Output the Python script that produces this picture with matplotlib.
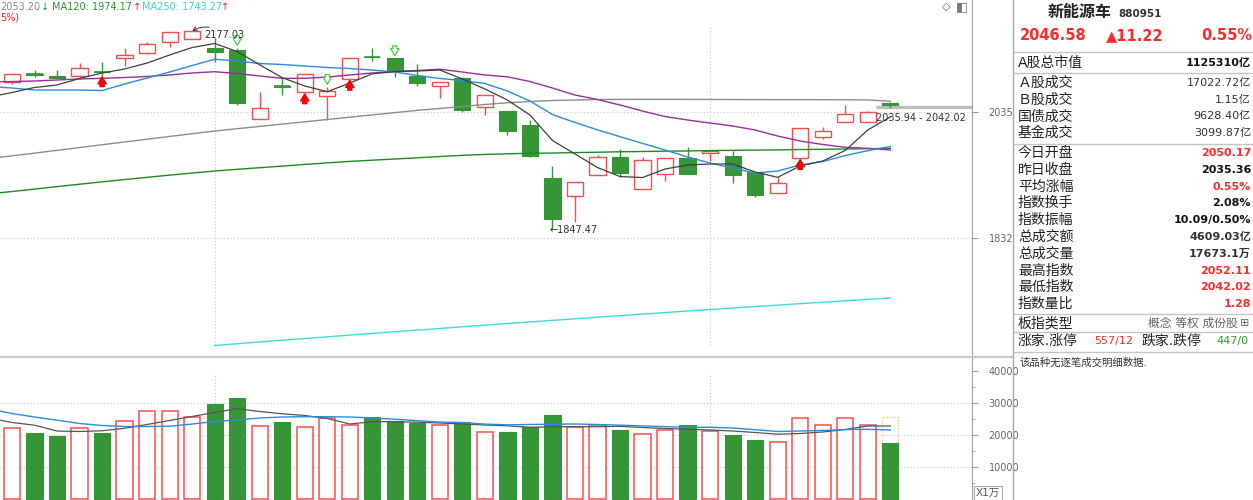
import numpy as np
import matplotlib.pyplot as plt
from matplotlib.lines import Line2D
from matplotlib.ticker import FixedLocator, FixedFormatter, NullLocator

plt.rcParams['font.family'] = ['DejaVu Sans', 'Noto Sans CJK SC']

# daily candles (oldest -> newest)
opens = [2086.8, 2101.1, 2096.7, 2096.7, 2104.6, 2128.9, 2137.8, 2156.3, 2162.3, 2145.6,
         2142.6, 2023.0, 2079.4, 2068.5, 2062.6, 2091.5, 2131.0, 2127.8, 2097.2, 2079.9,
         2093.2, 2043.8, 2037.0, 2013.0, 1925.6, 1897.5, 1930.9, 1959.6, 1908.1, 1932.5,
         1958.0, 1967.1, 1961.7, 1936.2, 1902.7, 1958.0, 1993.5, 2017.5, 2018.5, 2050.17]
closes = [2100.2, 2099.3, 2093.2, 2111.2, 2103.2, 2133.7, 2152.8, 2174.4, 2176.7, 2139.5,
          2049.6, 2042.1, 2077.6, 2099.7, 2070.7, 2127.8, 2130.1, 2107.2, 2084.5, 2085.8,
          2038.2, 2063.8, 2003.4, 1962.2, 1861.1, 1919.2, 1960.6, 1934.6, 1955.2, 1958.0,
          1932.5, 1970.4, 1930.9, 1899.1, 1917.6, 2008.4, 2003.4, 2031.5, 2035.36, 2046.58]
highs = [2100.2, 2107.2, 2107.2, 2119.0, 2121.8, 2145.6, 2157.4, 2174.4, 2177.03, 2163.5,
         2146.1, 2069.5, 2092.7, 2101.1, 2077.6, 2127.8, 2145.6, 2127.8, 2117.2, 2085.8,
         2095.0, 2063.8, 2037.0, 2021.4, 1945.5, 1919.2, 1963.3, 1972.7, 1960.6, 1958.5,
         1975.9, 1970.4, 1970.4, 1936.2, 1927.2, 2008.4, 2010.1, 2046.7, 2035.9, 2052.11]
lows = [2082.8, 2095.0, 2093.2, 2092.7, 2097.6, 2114.2, 2134.9, 2148.5, 2161.4, 2121.8,
        2046.7, 2023.0, 2063.8, 2068.1, 2021.4, 2091.5, 2123.1, 2095.5, 2079.9, 2058.2,
        2035.7, 2030.6, 1996.3, 1960.5, 1847.47, 1857.4, 1930.9, 1928.2, 1908.1, 1921.8,
        1932.5, 1954.0, 1917.6, 1895.4, 1902.7, 1958.0, 1989.2, 2017.5, 2018.5, 2042.02]
volumes = [22190, 20800, 19780, 22190, 20800, 24370, 27500, 27500, 25800, 29780,
           31650, 23000, 24160, 22700, 25500, 23220, 25720, 24470, 23940, 23320,
           24160, 21030, 21130, 22700, 26340, 22590, 23220, 21660, 20310, 21660,
           23320, 21450, 20190, 18530, 17810, 25310, 23320, 25310, 23320, 17673.1]
forecast_volume = 25620

# moving averages, first value is the day before the first candle
ma5 = [2060.4, 2068.1, 2076.8, 2081.1, 2092.5, 2102.0, 2109.0, 2119.5, 2133.7, 2147.0,
       2154.2, 2139.9, 2116.3, 2093.8, 2079.4, 2069.5, 2084.5, 2100.6, 2104.4, 2105.5,
       2107.2, 2091.5, 2074.2, 2055.3, 2029.8, 1987.2, 1965.0, 1943.0, 1928.5, 1926.9,
       1940.6, 1947.1, 1948.7, 1948.7, 1935.8, 1927.2, 1945.5, 1953.6, 1970.7, 2004.6, 2026.4]
ma10 = [2078.5, 2075.9, 2072.4, 2072.4, 2072.4, 2071.5, 2082.8, 2093.2, 2103.7, 2115.1,
        2126.1, 2123.1, 2118.6, 2116.9, 2114.2, 2111.6, 2109.8, 2107.2, 2103.7, 2097.6,
        2092.4, 2088.9, 2083.7, 2070.7, 2053.6, 2030.6, 2017.2, 2004.9, 1993.5, 1982.4,
        1971.5, 1960.1, 1950.3, 1942.2, 1934.1, 1937.4, 1947.1, 1952.7, 1962.5, 1970.4, 1977.3]
ma20 = [2086.3, 2087.1, 2088.0, 2089.8, 2091.5, 2092.7, 2094.1, 2095.9, 2098.5, 2102.0,
        2104.2, 2101.1, 2096.7, 2092.7, 2092.7, 2095.0, 2098.5, 2102.0, 2104.6, 2106.3,
        2108.6, 2103.7, 2098.5, 2095.3, 2087.1, 2075.9, 2063.8, 2056.1, 2046.7, 2036.5,
        2027.2, 2021.4, 2016.3, 2011.3, 2004.6, 1994.6, 1986.3, 1980.6, 1975.9, 1974.3, 1971.5]
ma60 = [1957.5, 1962.0, 1966.4, 1971.0, 1975.6, 1980.2, 1984.7, 1989.3, 1993.9, 1998.4,
        2002.9, 2006.8, 2010.6, 2014.5, 2018.3, 2022.2, 2026.1, 2030.0, 2033.8, 2037.7,
        2040.8, 2044.2, 2047.6, 2050.6, 2052.7, 2054.4, 2055.3, 2056.1, 2056.3, 2056.4,
        2056.4, 2056.3, 2056.2, 2056.1, 2056.0, 2055.9, 2055.9, 2055.8, 2055.7, 2055.4, 2053.2]
ma120 = [1901.0, 1904.6, 1908.4, 1912.4, 1916.2, 1920.0, 1923.6, 1927.2, 1930.8, 1934.1,
         1937.4, 1940.1, 1942.7, 1945.3, 1948.0, 1950.6, 1952.9, 1954.9, 1956.8, 1958.8,
         1960.9, 1962.8, 1964.3, 1965.3, 1966.1, 1966.6, 1967.3, 1967.9, 1968.6, 1969.1,
         1969.6, 1970.0, 1970.6, 1971.0, 1971.4, 1971.7, 1972.3, 1972.7, 1973.2, 1973.7, 1974.17]
ma250_start = 9
ma250 = [1675.6, 1678.0, 1680.5, 1682.9, 1685.3, 1687.7, 1690.1, 1692.5, 1694.9, 1697.2,
         1699.5, 1701.9, 1704.2, 1706.5, 1708.7, 1711.0, 1713.2, 1715.5, 1717.7, 1719.9,
         1722.1, 1724.3, 1726.4, 1728.6, 1730.7, 1732.8, 1734.9, 1737.0, 1739.1, 1741.1, 1743.27]
vol_ma5 = [25400, 24000, 23160, 21340, 21190, 21410, 22190, 23380, 24630, 25880,
           27130, 28310, 27440, 26720, 26190, 25250, 23530, 24250, 24250, 24090,
           23840, 23530, 23220, 22970, 22500, 22660, 22690, 22690, 22810, 22440,
           22130, 21880, 21660, 21340, 20880, 20340, 20560, 21030, 21810, 22910, 22910]
vol_ma10 = [28220, 26810, 25720, 24720, 23690, 23060, 22750, 22750, 22840, 23530,
            24310, 24780, 25410, 25720, 25810, 25810, 25720, 25410, 25030, 24560,
            24160, 23970, 23500, 23280, 23380, 23470, 23530, 23380, 23160, 22940,
            22690, 22500, 22500, 22280, 21750, 21190, 21340, 21500, 21780, 21880, 21660]

buy_signals = [4, 13, 15, 35]
sell_signals = [10, 14, 17]

price_ticks = [1832, 2035]
vol_ticks = [10000, 20000, 30000, 40000]

header = [('2053.20', '#8a8a8a'), ('↓', '#2a9a2a'), ('MA120: 1974.17', '#2a962a'), ('↑', '#ff2020'),
          ('MA250: 1743.27', '#3fcfcf'), ('↑', '#ff2020')]

name, code = '新能源车', '880951'
last_price, change, pct = '2046.58', '▲11.22', '0.55%'
rows_a = [('A股总市值', '1125310亿', '#111')]
rows_b = [('Ａ股成交', '17022.72亿', '#333'), ('Ｂ股成交', '1.15亿', '#333'),
          ('国债成交', '9628.40亿', '#333'), ('基金成交', '3099.87亿', '#333')]
rows_c = [('今日开盘', '2050.17', '#ff2a2a'), ('昨日收盘', '2035.36', '#111'),
          ('平均涨幅', '0.55%', '#ff2a2a'), ('指数换手', '2.08%', '#111'),
          ('指数振幅', '10.09/0.50%', '#111'), ('总成交额', '4609.03亿', '#333'),
          ('总成交量', '17673.1万', '#333'), ('最高指数', '2052.11', '#ff2a2a'),
          ('最低指数', '2042.02', '#ff2a2a'), ('指数量比', '1.28', '#ff2a2a')]

RED = '#ff4b4b'
GREEN = '#369536'
W, H = 1253, 500


def fp(x, y):
    return x / W, 1 - y / H


n = len(closes)
x = np.arange(n)
x_ma = np.arange(-1, n)
x_250 = np.arange(ma250_start, n)
xlim = (-0.533, 42.63)

fig = plt.figure(figsize=(W / 100, H / 100), dpi=100)
fig.patch.set_facecolor('white')

ax = fig.add_axes([0, 1 - 356 / H, 972 / W, 356 / H])
axv = fig.add_axes([0, 0, 972 / W, 143 / H])

# ---- price panel
ax.set_yscale('log')
ax.set_xlim(*xlim)
ax.set_ylim(1661.0, 2233.6)
for a in (ax, axv):
    for s in ('left', 'top', 'bottom'):
        a.spines[s].set_visible(False)
    a.spines['right'].set_color('#a0a0a0')
    a.set_xticks([])
    a.yaxis.tick_right()
    a.tick_params(axis='y', direction='out', length=4, color='#999999',
                  labelcolor='#666666', labelsize=7, pad=8)

ax.yaxis.set_major_locator(FixedLocator(price_ticks))
ax.yaxis.set_major_formatter(FixedFormatter([str(t) for t in price_ticks]))
ax.yaxis.set_minor_locator(NullLocator())

for t in price_ticks:
    ax.axhline(t, color='#c8c8c8', lw=0.8, ls=(0, (1, 2)), zorder=0)
for vx in (9, 31):
    ax.axvline(vx, ymin=0.03, ymax=0.93, color='#c8c8c8', lw=0.8, ls=(0, (1, 2)), zorder=0)

w = 0.72
for i in range(n):
    o, c, h, l = opens[i], closes[i], highs[i], lows[i]
    if c >= o:
        ax.vlines(i, c, h, color=RED, lw=1, zorder=2)
        ax.vlines(i, l, o, color=RED, lw=1, zorder=2)
        ax.bar(i, c - o, bottom=o, width=w, facecolor='white', edgecolor=RED, lw=1, zorder=2)
    else:
        ax.vlines(i, l, h, color=GREEN, lw=1, zorder=2)
        ax.bar(i, o - c, bottom=c, width=w, color=GREEN, edgecolor=GREEN, lw=0.8, zorder=2)
        if o - c < 2:
            ax.hlines(o, i - w / 2, i + w / 2, color=GREEN, lw=1.2, zorder=2)

ax.plot(x_ma, ma60, color='#8c8c8c', lw=1, zorder=3)
ax.plot(x_ma, ma120, color='#1f8a1f', lw=1, zorder=3)
ax.plot(x_250, ma250, color='#3fdada', lw=1, zorder=3)
ax.plot(x_ma, ma20, color='#9a2e9a', lw=1, zorder=3)
ax.plot(x_ma, ma10, color='#2a8ce0', lw=1, zorder=3)
ax.plot(x_ma, ma5, color='#404040', lw=0.9, zorder=3)

for i in buy_signals:
    ax.annotate('', xy=(i, lows[i]), xytext=(0, -8), textcoords='offset points',
                arrowprops=dict(arrowstyle='simple,head_length=0.5,head_width=0.6,tail_width=0.3',
                                fc='red', ec='red', shrinkA=0, shrinkB=1), zorder=4)
for i in sell_signals:
    ax.annotate('', xy=(i, highs[i]), xytext=(0, 9), textcoords='offset points',
                arrowprops=dict(arrowstyle='simple,head_length=0.5,head_width=0.6,tail_width=0.3',
                                fc='white', ec='#2fcf2f', lw=0.8, shrinkA=0, shrinkB=2), zorder=4)

hi = int(np.argmax(highs))
lo = int(np.argmin(lows))
ax.annotate(f'{highs[hi]:.2f}', xy=(hi, highs[hi]), xytext=(9, -3), textcoords='offset points',
            ha='left', va='center', fontsize=7, color='#333333',
            arrowprops=dict(arrowstyle='->', connectionstyle='arc3,rad=0.35', color='#333333',
                            lw=0.7, shrinkA=0, shrinkB=0), zorder=5)
ax.annotate(f'←{lows[lo]:.2f}', xy=(lo, lows[lo]), xytext=(-2, -1), textcoords='offset points',
            ha='left', va='center', fontsize=7, color='#333333', zorder=5)
ax.hlines(2043.8, 38.35, xlim[1], color='#bdbdbd', lw=2.4, zorder=1)
ax.text(38.35, 2025.0, '2035.94 - 2042.02', fontsize=7, color='#333333', ha='left',
        va='center', zorder=5)

# ---- volume panel
axv.set_xlim(*xlim)
axv.set_ylim(-219, 44469)
axv.yaxis.set_major_locator(FixedLocator(vol_ticks))
axv.yaxis.set_major_formatter(FixedFormatter([str(t) for t in vol_ticks]))
axv.yaxis.set_minor_locator(FixedLocator([5000, 15000, 25000, 35000]))
axv.tick_params(axis='y', which='minor', direction='out', length=2, color='#999999')
for t in vol_ticks[:3]:
    axv.axhline(t, color='#c8c8c8', lw=0.8, ls=(0, (1, 2)), zorder=0)
for vx in (9, 31):
    axv.axvline(vx, ymin=0, ymax=0.89, color='#c8c8c8', lw=0.8, ls=(0, (1, 2)), zorder=0)

axv.bar(n - 1, forecast_volume, width=w, facecolor='none', edgecolor='#d9d98a', lw=1,
        ls=(0, (1, 1)), zorder=1)
for i in range(n):
    if closes[i] >= opens[i]:
        axv.bar(i, volumes[i], width=w, facecolor='white', edgecolor=RED, lw=1.1, zorder=2)
    else:
        axv.bar(i, volumes[i], width=w, color=GREEN, edgecolor=GREEN, lw=0.8, zorder=2)
axv.plot(x_ma, vol_ma5, color='#555555', lw=0.9, zorder=3)
axv.plot(x_ma, vol_ma10, color='#2a8ce0', lw=1, zorder=3)

fig.text(*fp(976, 493), 'X1万', fontsize=7.5, color='#555555', va='center', ha='left',
         bbox=dict(boxstyle='square,pad=0.15', fc='white', ec='#aaaaaa', lw=0.8))

# ---- header over the chart
hpos = [0, 41, 52, 133, 142, 221]
for (txt, col), px in zip(header, hpos):
    fig.text(*fp(px, 7), txt, fontsize=7, color=col, ha='left', va='center')
fig.text(*fp(0, 18), '5%)', fontsize=7, color='#ff2020', ha='left', va='center')
fig.text(*fp(946, 7), '◇', fontsize=8, color='#666666', ha='center', va='center')
fig.text(*fp(962, 7), '◧', fontsize=9, color='#777777', ha='center', va='center')

# ---- frame lines
fig.add_artist(Line2D([0, 1013 / W], [fp(0, 357)[1]] * 2, color='#c8c8c8', lw=1.6))
fig.add_artist(Line2D([1013 / W] * 2, [0, 1], color='#a8a8a8', lw=1))

# ---- right info panel
fig.text(*fp(1048, 12), name, fontsize=11.5, fontweight='bold', color='#222222', ha='left', va='center')
fig.text(*fp(1118, 14), code, fontsize=7.5, fontweight='bold', color='#333333', ha='left', va='center')
fig.text(*fp(1020, 36), last_price, fontsize=10.5, fontweight='bold', color='#ff2a2a', ha='left', va='center')
fig.text(*fp(1106, 36), change, fontsize=10.5, fontweight='bold', color='#ff2a2a', ha='left', va='center')
fig.text(*fp(1252, 36), pct, fontsize=10.5, fontweight='bold', color='#ff2a2a', ha='right', va='center')

for sy in (52, 73, 144, 314, 332, 352):
    fig.add_artist(Line2D([1014 / W, 1], [fp(0, sy)[1]] * 2, color='#c4c4c4', lw=1))


def info_rows(rows, y0, dy, bold=True):
    for k, (lab, val, col) in enumerate(rows):
        yy = y0 + k * dy
        fig.text(*fp(1018, yy), lab, fontsize=10, color='#222222', ha='left', va='center')
        fig.text(*fp(1251, yy), val, fontsize=8, color=col, ha='right', va='center',
                 fontweight='bold' if bold else 'normal')


info_rows(rows_a, 63, 0)
info_rows(rows_b, 83, 16.7, bold=False)
info_rows(rows_c, 153, 16.8)

fig.text(*fp(1018, 323), '板指类型', fontsize=10, color='#222222', ha='left', va='center')
fig.text(*fp(1238, 323), '概念 等权 成份股', fontsize=8.5, color='#666666', ha='right', va='center')
fig.text(*fp(1245, 323), '⊞', fontsize=8, color='#666666', ha='center', va='center')
fig.text(*fp(1018, 341), '涨家.涨停', fontsize=10, color='#222222', ha='left', va='center')
fig.text(*fp(1094, 341), '557/12', fontsize=8, color='#ff2a2a', ha='left', va='center')
fig.text(*fp(1141, 341), '跌家.跌停', fontsize=10, color='#222222', ha='left', va='center')
fig.text(*fp(1216, 341), '447/0', fontsize=8, color='#2a9a2a', ha='left', va='center')
fig.text(*fp(1020, 363), '该品种无逐笔成交明细数据.', fontsize=7.5, color='#333333', ha='left', va='center')

fig.savefig('out.png', dpi=100, facecolor='white')
